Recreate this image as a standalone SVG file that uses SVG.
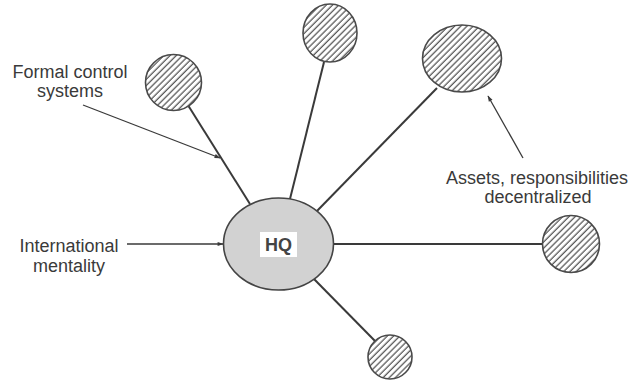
<svg xmlns="http://www.w3.org/2000/svg" width="632" height="380" viewBox="0 0 632 380">
  <style>
    .lbl { font-family: "Liberation Sans", Arial, sans-serif; font-size: 18px; fill: #3a3a3a; text-anchor: middle; }
    .spoke { stroke: #3a3a3a; stroke-width: 2; fill: none; }
    .note { stroke: #3a3a3a; stroke-width: 1.3; fill: none; marker-end: url(#arrow); }
    .sat { fill: url(#hatch); stroke: #4a4a4a; stroke-width: 1.6; }
  </style>
  <defs>
    <pattern id="hatch" patternUnits="userSpaceOnUse" width="4.4" height="4.4" patternTransform="rotate(45)">
      <rect width="4.4" height="4.4" fill="#ffffff"/>
      <line x1="1.1" y1="0" x2="1.1" y2="4.4" stroke="#5a5a5a" stroke-width="1.3"/>
    </pattern>
    <marker id="arrow" viewBox="0 0 10 10" refX="9" refY="5" markerWidth="8" markerHeight="6" markerUnits="userSpaceOnUse" orient="auto">
      <path d="M0,1.5 L10,5 L0,8.5 Z" fill="#3a3a3a"/>
    </marker>
  </defs>

  <rect width="632" height="380" fill="#ffffff"/>

  <!-- spokes from HQ to the subsidiaries, plus annotation arrows -->
  <g id="connectors">
    <line class="spoke" x1="250" y1="204" x2="188.5" y2="106"/>
    <line class="spoke" x1="290" y1="199" x2="324" y2="62"/>
    <line class="spoke" x1="316" y1="212" x2="437" y2="88"/>
    <line class="spoke" x1="333" y1="244" x2="543" y2="244"/>
    <line class="spoke" x1="314" y1="279" x2="376" y2="342"/>
    <line class="note" x1="83" y1="105" x2="220" y2="158"/>
    <line class="note" x1="127" y1="244" x2="223" y2="244"/>
    <line class="note" x1="523" y1="158" x2="488" y2="96"/>
  </g>

  <g id="hq">
    <ellipse cx="278.5" cy="244" rx="55" ry="46" fill="#d2d2d2" stroke="#444444" stroke-width="1.6"/>
    <rect x="260" y="232" width="37" height="25" fill="#ffffff"/>
    <text x="278.5" y="251" class="lbl" style="font-weight:bold; fill:#444444">HQ</text>
  </g>

  <g id="sub-upper-left">
    <circle class="sat" cx="173.5" cy="82.5" r="28"/>
  </g>
  <g id="sub-top">
    <ellipse class="sat" cx="330" cy="33" rx="27" ry="29"/>
  </g>
  <g id="sub-upper-right">
    <ellipse class="sat" cx="462" cy="58.5" rx="39.5" ry="33.5"/>
  </g>
  <g id="sub-right">
    <circle class="sat" cx="571" cy="244" r="28.5"/>
  </g>
  <g id="sub-bottom">
    <circle class="sat" cx="390" cy="357" r="22"/>
  </g>

  <g id="label-formal">
    <text class="lbl" x="70" y="78">Formal control</text>
    <text class="lbl" x="70" y="97">systems</text>
  </g>
  <g id="label-international">
    <text class="lbl" x="69" y="252">International</text>
    <text class="lbl" x="69" y="272">mentality</text>
  </g>
  <g id="label-assets">
    <text class="lbl" x="537" y="184">Assets, responsibilities</text>
    <text class="lbl" x="538" y="203">decentralized</text>
  </g>
</svg>
